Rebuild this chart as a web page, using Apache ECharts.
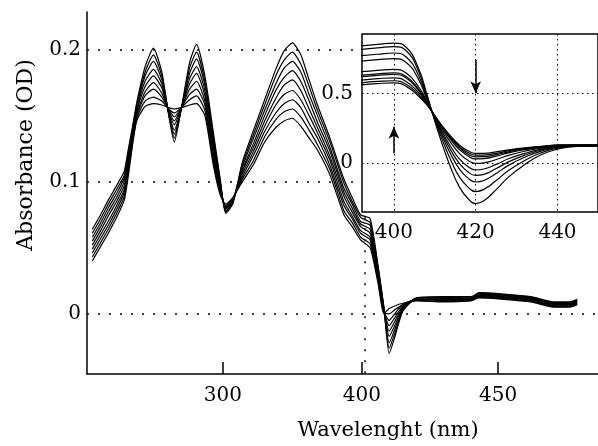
<!DOCTYPE html>
<html>
<head>
<meta charset="utf-8">
<script src="https://cdn.jsdelivr.net/npm/echarts@6/dist/echarts.min.js"></script>
<style>
html, body { margin: 0; padding: 0; background: #fff; }
#absorbance { width: 598px; height: 446px; }
</style>
</head>
<body>
<div id="absorbance"></div>
<script>
// main panel: wavelengths (nm) and one array per spectrum
const mainWavelengths = [206, 212, 218, 224, 229, 232, 235, 238, 244, 250, 256, 261, 265, 270, 276, 281, 287, 293, 298, 302, 307, 314, 322, 330, 338, 344, 350, 356, 362, 368, 377, 387, 393, 399, 403, 406, 408, 410, 412, 415, 420, 430, 440, 443, 452, 462, 471, 476, 479];

const main1 = [.040,.051,.062,.074,.086,.105,.128,.146,.157,.159,.158,.156,.155,.156,.158,.159,.150,.113,.090,.083,.088,.100,.113,.130,.141,.146,.148,.142,.133,.124,.105,.075,.066,.056,.050,.022,.000,.004,.006,.008,.010,.009,.010,.012,.011,.009,.005,.005,.007];
const main2 = [.043,.054,.065,.077,.089,.108,.130,.148,.161,.164,.161,.155,.152,.156,.162,.165,.154,.116,.092,.082,.087,.102,.116,.134,.147,.153,.155,.149,.139,.128,.109,.078,.069,.058,.053,.024,.001,.000,.003,.007,.010,.0095,.010,.0125,.0115,.0095,.0055,.0055,.0075];
const main3 = [.046,.057,.068,.080,.092,.110,.132,.150,.165,.170,.164,.155,.149,.156,.166,.170,.158,.119,.093,.081,.087,.104,.120,.138,.152,.159,.162,.156,.144,.133,.112,.082,.072,.061,.056,.025,.002,-.005,.000,.007,.011,.010,.011,.013,.012,.010,.006,.006,.008];
const main4 = [.049,.060,.071,.083,.094,.113,.133,.151,.168,.175,.167,.154,.146,.156,.170,.176,.161,.122,.095,.080,.086,.106,.123,.142,.158,.166,.169,.162,.150,.137,.116,.085,.074,.063,.058,.027,.002,-.009,-.003,.006,.011,.0105,.011,.0135,.0125,.0105,.0065,.0065,.0085];
const main5 = [.052,.063,.075,.086,.097,.115,.135,.153,.172,.180,.171,.153,.143,.156,.174,.182,.165,.126,.096,.080,.086,.108,.126,.146,.163,.173,.177,.169,.155,.141,.119,.089,.077,.066,.061,.029,.003,-.013,-.006,.005,.011,.011,.011,.014,.013,.011,.007,.007,.009];
const main6 = [.055,.066,.078,.089,.100,.118,.137,.155,.176,.185,.174,.152,.139,.155,.178,.187,.169,.129,.098,.079,.085,.109,.129,.150,.169,.179,.184,.176,.161,.145,.123,.092,.080,.068,.064,.030,.004,-.017,-.009,.004,.011,.0115,.012,.0145,.0135,.0115,.0075,.0075,.0095];
const main7 = [.058,.069,.081,.092,.103,.120,.139,.157,.180,.191,.177,.152,.136,.155,.182,.193,.173,.132,.099,.078,.084,.111,.133,.154,.174,.186,.191,.183,.166,.150,.126,.095,.083,.070,.067,.032,.005,-.022,-.012,.004,.012,.012,.012,.015,.014,.012,.008,.008,.010];
const main8 = [.061,.072,.084,.095,.105,.123,.140,.158,.183,.196,.180,.151,.133,.155,.186,.198,.176,.135,.101,.077,.084,.113,.136,.158,.180,.192,.198,.189,.172,.154,.130,.099,.085,.073,.069,.034,.005,-.026,-.015,.003,.012,.0125,.012,.0155,.0145,.0125,.0085,.0085,.0105];
const main9 = [.064,.075,.087,.098,.108,.125,.142,.160,.187,.201,.183,.150,.130,.155,.190,.204,.180,.138,.102,.076,.083,.115,.139,.162,.185,.199,.205,.196,.177,.158,.133,.102,.088,.075,.072,.035,.006,-.030,-.018,.002,.012,.013,.013,.016,.015,.013,.009,.009,.011];

// inset panel
const insetWavelengths = [392, 396, 400, 403, 406, 408, 410, 412, 414, 416, 418, 420, 422, 425, 428, 432, 436, 440, 445, 450];

const inset1 = [.84,.85,.86,.83,.68,.50,.30,.12,-.04,-.17,-.25,-.29,-.27,-.19,-.10,-.01,.06,.10,.12,.12];
const inset2 = [.815,.825,.835,.805,.66,.487,.31,.154,.015,-.098,-.168,-.204,-.188,-.125,-.053,.019,.074,.107,.122,.122];
const inset3 = [.77,.78,.789,.76,.63,.473,.317,.18,.059,-.041,-.104,-.135,-.124,-.074,-.016,.042,.086,.113,.124,.124];
const inset4 = [.731,.741,.749,.721,.602,.462,.322,.198,.089,-.002,-.06,-.088,-.08,-.039,.009,.057,.094,.117,.126,.126];
const inset5 = [.655,.665,.672,.645,.548,.447,.327,.214,.114,.031,-.022,-.049,-.042,-.009,.031,.07,.1,.12,.127,.127];
const inset6 = [.63,.64,.646,.62,.53,.438,.332,.232,.144,.07,.022,-.002,.002,.026,.056,.086,.108,.124,.128,.128];
const inset7 = [.619,.629,.635,.609,.522,.434,.336,.245,.165,.097,.053,.03,.033,.05,.074,.097,.113,.127,.129,.129];
const inset8 = [.595,.605,.611,.585,.505,.428,.337,.25,.174,.109,.066,.045,.046,.061,.081,.102,.116,.128,.129,.129];
const inset9 = [.575,.585,.59,.565,.491,.424,.339,.255,.182,.119,.078,.057,.058,.07,.088,.106,.118,.129,.13,.13];
const inset10 = [.56,.57,.575,.55,.48,.42,.34,.26,.19,.13,.09,.07,.07,.08,.095,.11,.12,.13,.13,.13];

// tick labels
const mainXTicks = [300, 400, 450];
const mainYTicks = [0, 0.1, 0.2];
const insetXTicks = [400, 420, 440];
const insetYTicks = [0, 0.5];

// the main wavelength axis is stretched above 400 nm
const BREAK = 400;
const STRETCH = 1.96;
function toAxis(nm) {
    return nm <= BREAK ? nm : BREAK + (nm - BREAK) * STRETCH;
}
function fromAxis(u) {
    return u <= BREAK ? u : BREAK + (u - BREAK) / STRETCH;
}

const FONT = 'DejaVu Serif';
const textStyle = { color: '#000', fontFamily: FONT, fontSize: 20 };

let chart = echarts.init(document.getElementById('absorbance'));
chart.setOption(setOptions());

function setOptions() {
    let mainSeries = [main1, main2, main3, main4, main5, main6, main7, main8, main9].map(values => ({
        type: 'line',
        xAxisIndex: 0,
        yAxisIndex: 0,
        data: mainWavelengths.map((w, i) => [toAxis(w), values[i]]),
        showSymbol: false,
        smooth: 0.2,
        silent: true,
        lineStyle: { color: '#000', width: 1.2 },
        z: 2
    }));
    mainSeries[0].markLine = {
        silent: true,
        symbol: 'none',
        label: { show: false },
        lineStyle: { color: '#000', width: 1.5, type: [2, 9] },
        data: [[{ coord: [toAxis(401), -0.045] }, { coord: [toAxis(401), 0.21] }]]
    };

    let insetSeries = [inset1, inset2, inset3, inset4, inset5, inset6, inset7, inset8, inset9, inset10].map(values => ({
        type: 'line',
        xAxisIndex: 1,
        yAxisIndex: 1,
        data: insetWavelengths.map((w, i) => [w, values[i]]),
        showSymbol: false,
        smooth: true,
        silent: true,
        lineStyle: { color: '#000', width: 1.2 },
        z: 12
    }));
    // arrows showing the direction of change
    insetSeries[0].markLine = {
        silent: true,
        z: 14,
        symbol: ['none', 'arrow'],
        symbolSize: [8, 12],
        label: { show: false },
        lineStyle: { color: '#000', width: 1.5, type: 'solid' },
        data: [
            [{ coord: [400, 0.07] }, { coord: [400, 0.26] }],
            [{ coord: [420, 0.74] }, { coord: [420, 0.50] }]
        ]
    };

    return {
        backgroundColor: '#fff',
        animation: false,
        grid: [
            { left: 87, right: 0, top: 12, bottom: 67 },
            {
                left: 362, top: 34, width: 238, height: 178,
                show: true, backgroundColor: '#fff',
                borderColor: '#000', borderWidth: 1.5, z: 10
            }
        ],
        xAxis: [
            {
                type: 'value',
                gridIndex: 0,
                min: 202.2,
                max: 569.8,
                name: 'Wavelenght (nm)',
                nameLocation: 'middle',
                nameGap: 46,
                nameTextStyle: Object.assign({}, textStyle, { fontSize: 21, padding: [0, 0, 0, 91] }),
                axisLine: { onZero: false, lineStyle: { color: '#000', width: 1.5 } },
                axisTick: { show: true, inside: true, length: 12, lineStyle: { color: '#000', width: 1.5 }, customValues: mainXTicks.map(toAxis) },
                axisLabel: Object.assign({}, textStyle, {
                    margin: 12,
                    customValues: mainXTicks.map(toAxis),
                    formatter: v => String(Math.round(fromAxis(v)))
                }),
                splitLine: { show: false }
            },
            {
                type: 'value',
                gridIndex: 1,
                min: 392.2,
                max: 449.9,
                z: 11,
                axisLine: { show: false, onZero: false },
                axisTick: { show: false, customValues: insetXTicks },
                axisLabel: Object.assign({}, textStyle, { margin: 11, customValues: insetXTicks }),
                splitLine: { show: true, lineStyle: { color: '#000', width: 1, type: [1.5, 3.5] } }
            }
        ],
        yAxis: [
            {
                type: 'value',
                gridIndex: 0,
                min: -0.0455,
                max: 0.2284,
                name: 'Absorbance (OD)',
                nameLocation: 'middle',
                nameGap: 50,
                nameTextStyle: Object.assign({}, textStyle, { fontSize: 22, padding: [0, 0, 0, 76] }),
                axisLine: { show: true, onZero: false, lineStyle: { color: '#000', width: 1.5 } },
                axisTick: { show: false, customValues: mainYTicks },
                axisLabel: Object.assign({}, textStyle, { margin: 6, customValues: mainYTicks }),
                splitLine: { show: true, lineStyle: { color: '#000', width: 1.5, type: [2, 9] } }
            },
            {
                type: 'value',
                gridIndex: 1,
                min: -0.35,
                max: 0.925,
                z: 11,
                axisLine: { show: false, onZero: false },
                axisTick: { show: false, customValues: insetYTicks },
                axisLabel: Object.assign({}, textStyle, { margin: 9, customValues: insetYTicks }),
                splitLine: { show: true, lineStyle: { color: '#000', width: 1, type: [1.5, 3.5] } }
            }
        ],
        series: mainSeries.concat(insetSeries)
    };
}
</script>
</body>
</html>
